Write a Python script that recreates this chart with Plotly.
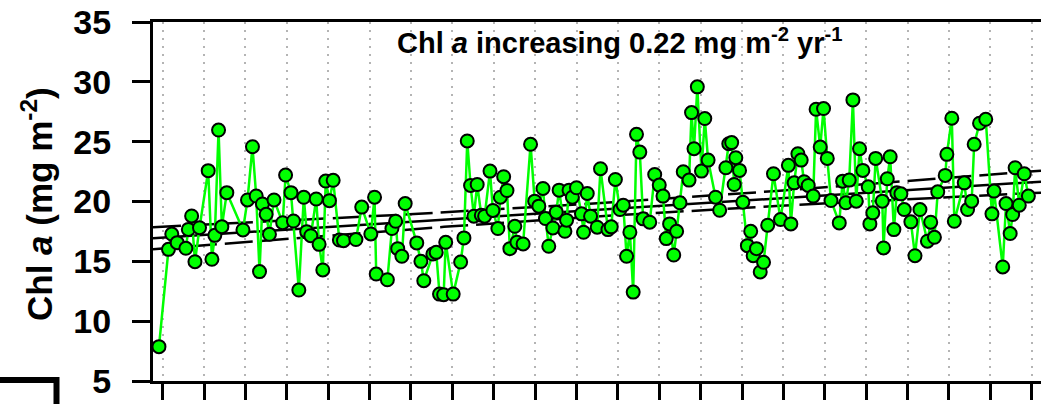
import plotly.graph_objects as go

# Monthly-ish chlorophyll a observations (decimal year, mg m^-2)
years = [
    1992.91, 1993.14, 1993.22, 1993.35, 1993.56, 1993.62, 1993.70, 1993.78, 1993.89, 1994.10,
    1994.19, 1994.26, 1994.35, 1994.43, 1994.55, 1994.94, 1995.05, 1995.17, 1995.26, 1995.34,
    1995.41, 1995.50, 1995.58, 1995.69, 1995.90, 1995.97, 1996.10, 1996.16, 1996.29, 1996.41,
    1996.48, 1996.58, 1996.71, 1996.78, 1996.87, 1996.94, 1997.03, 1997.12, 1997.27, 1997.37,
    1997.67, 1997.81, 1998.03, 1998.12, 1998.16, 1998.43, 1998.54, 1998.63, 1998.68, 1998.78,
    1998.86, 1999.14, 1999.24, 1999.31, 1999.53, 1999.61, 1999.69, 1999.79, 1999.84, 2000.02,
    2000.20, 2000.28, 2000.36, 2000.44, 2000.52, 2000.60, 2000.70, 2000.78, 2000.91, 2000.98,
    2001.10, 2001.16, 2001.24, 2001.32, 2001.39, 2001.51, 2001.56, 2001.71, 2001.89, 2001.99,
    2002.09, 2002.19, 2002.25, 2002.33, 2002.43, 2002.51, 2002.58, 2002.72, 2002.76, 2002.82,
    2002.90, 2003.00, 2003.12, 2003.17, 2003.26, 2003.34, 2003.50, 2003.58, 2003.76, 2003.84,
    2003.94, 2004.05, 2004.13, 2004.21, 2004.29, 2004.37, 2004.45, 2004.53, 2004.61, 2004.77,
    2004.89, 2005.00, 2005.09, 2005.17, 2005.25, 2005.35, 2005.42, 2005.50, 2005.58, 2005.72,
    2005.78, 2005.84, 2005.92, 2006.02, 2006.10, 2006.18, 2006.36, 2006.46, 2006.61, 2006.68,
    2006.75, 2006.81, 2006.85, 2006.94, 2007.02, 2007.13, 2007.21, 2007.27, 2007.35, 2007.44,
    2007.52, 2007.62, 2007.76, 2007.93, 2008.12, 2008.18, 2008.26, 2008.35, 2008.43, 2008.50,
    2008.60, 2008.72, 2008.79, 2008.89, 2008.97, 2009.06, 2009.15, 2009.35, 2009.43, 2009.51,
    2009.59, 2009.68, 2009.76, 2009.84, 2009.92, 2010.05, 2010.09, 2010.16, 2010.23, 2010.39,
    2010.42, 2010.51, 2010.58, 2010.67, 2010.74, 2010.84, 2010.92, 2011.08, 2011.18, 2011.30,
    2011.48, 2011.56, 2011.65, 2011.73, 2011.91, 2011.95, 2012.07, 2012.13, 2012.37, 2012.45,
    2012.55, 2012.61, 2012.74, 2012.89, 2013.04, 2013.09, 2013.30, 2013.38, 2013.48, 2013.54,
    2013.60, 2013.70, 2013.82, 2013.92,
]
chl = [
    7.87, 16.00, 17.28, 16.56, 16.09, 17.67, 18.79, 14.97, 17.81, 22.58,
    15.17, 17.17, 25.97, 17.90, 20.74, 17.62, 20.13, 24.58, 20.46, 14.14,
    19.79, 18.93, 17.26, 20.13, 18.23, 22.21, 20.74, 18.37, 12.60, 20.35,
    17.48, 17.14, 20.21, 16.42, 14.28, 21.71, 20.07, 21.77, 16.78, 16.73,
    16.82, 19.53, 17.29, 20.36, 13.94, 13.46, 17.74, 18.35, 16.06, 15.42,
    19.83, 16.54, 15.00, 13.38, 15.61, 15.75, 12.26, 12.21, 16.59, 12.26,
    14.94, 16.96, 25.06, 21.34, 18.77, 21.42, 18.85, 18.77, 22.54, 19.25,
    17.74, 20.36, 22.07, 20.92, 16.06, 17.93, 16.59, 16.45, 24.78, 20.03,
    19.61, 21.09, 18.58, 16.26, 17.79, 19.11, 20.95, 17.51, 18.44, 20.95,
    20.36, 21.15, 18.97, 17.43, 20.67, 18.77, 17.85, 22.74, 17.65, 17.88,
    21.84, 19.33, 19.69, 15.42, 17.43, 12.43, 25.61, 24.13, 18.55, 18.27,
    22.26, 21.37, 20.45, 16.90, 18.13, 15.53, 17.51, 19.89, 22.49, 21.79,
    27.43, 24.41, 29.58, 22.54, 26.93, 23.46, 20.36, 19.27, 22.82, 24.83,
    24.92, 21.42, 23.66, 22.60, 19.94, 16.31, 17.51, 15.47, 16.06, 14.11,
    14.92, 18.02, 22.32, 18.49, 23.02, 18.13, 21.56, 23.99, 23.46, 21.65,
    21.34, 20.45, 27.71, 24.55, 27.77, 23.60, 20.08, 18.21, 21.70, 19.89,
    21.79, 28.49, 20.03, 24.41, 22.60, 21.23, 18.13, 19.05, 23.60, 20.03,
    16.12, 21.90, 23.74, 17.65, 20.73, 20.64, 19.33, 18.30, 15.47, 19.33,
    16.68, 18.27, 17.01, 20.81, 22.18, 23.94, 26.96, 18.35, 21.56, 19.33,
    20.03, 24.78, 26.54, 26.87, 18.97, 20.87, 14.53, 19.83, 17.32, 18.91,
    22.82, 19.69, 22.32, 20.45,
]

# Linear trend (mg m^-2 per year) and its 95 % confidence band
trend_slope = 0.22
trend_center_year = 2003.5
trend_center_value = 19.3
ci_halfwidth_center = 0.55
ci_spread = 0.0047

year_ticks = list(range(1993, 2015))
y_ticks = [5, 10, 15, 20, 25, 30, 35]
x_range = [1992.766, 2014.225]

FONT = "Liberation Sans, Arial, sans-serif"

# Trend line sampled across the axis span
n_s = 120
xs = [x_range[0] + (x_range[1] - x_range[0]) * i / (n_s - 1) for i in range(n_s)]
fit = [trend_center_value + trend_slope * (x - trend_center_year) for x in xs]
hw = [(ci_halfwidth_center ** 2 + ci_spread * (x - trend_center_year) ** 2) ** 0.5 for x in xs]
upper = [f + h for f, h in zip(fit, hw)]
lower = [f - h for f, h in zip(fit, hw)]

fig = go.Figure()
for band in (upper, lower):
    fig.add_trace(go.Scatter(x=xs, y=band, mode="lines", hoverinfo="skip",
                             line=dict(color="black", width=2.5, dash="28px,8px")))
fig.add_trace(go.Scatter(x=xs, y=fit, mode="lines", hoverinfo="skip",
                         line=dict(color="black", width=2.5)))
fig.add_trace(go.Scatter(
    x=years, y=chl, mode="lines+markers",
    line=dict(color="#00ff00", width=2.5),
    marker=dict(size=13, color="#00ff00", line=dict(color="black", width=2)),
))

W, H = 1041, 404
L, T, B = 153, 22, 23
pw, ph = W - L, H - T - B


def px(x):
    return (x - L) / pw


def py(y):
    return (H - B - y) / ph


fig.update_layout(
    width=W, height=H,
    margin=dict(l=L, r=0, t=T, b=B),
    paper_bgcolor="white", plot_bgcolor="white",
    showlegend=False,
    font=dict(family=FONT, color="black"),
    xaxis=dict(
        range=x_range, tickvals=year_ticks, showticklabels=False,
        ticks="outside", ticklen=16, tickwidth=3, tickcolor="black",
        showline=True, linewidth=3, linecolor="black", mirror=True,
        showgrid=True, gridcolor="#b4b4b4", gridwidth=2, griddash="2px,6px",
        zeroline=False,
    ),
    yaxis=dict(
        range=[5, 35], tickvals=y_ticks,
        ticks="outside", ticklen=18, tickwidth=3, tickcolor="black",
        showline=True, linewidth=3, linecolor="black",
        showgrid=False, zeroline=False,
        tickfont=dict(size=34, family=FONT, weight="bold"),
        ticklabelstandoff=14,
    ),
    annotations=[
        dict(text="Chl <i>a</i> (mg m<sup>-2</sup>)", textangle=-90,
             xref="paper", yref="paper", x=px(37), y=py(204),
             xanchor="center", yanchor="middle", showarrow=False,
             font=dict(size=35, family=FONT, weight="bold")),
        dict(text="Chl <i>a</i> increasing 0.22 mg m<sup>-2</sup> yr<sup>-1</sup>",
             xref="paper", yref="paper", x=px(620), y=py(41),
             xanchor="center", yanchor="middle", showarrow=False,
             font=dict(size=29, family=FONT, weight="bold")),
    ],
    shapes=[
        dict(type="path", xref="paper", yref="paper",
             path=f"M {px(-5)},{py(380)} L {px(56.5)},{py(380)} L {px(56.5)},{py(420)}",
             line=dict(color="black", width=6)),
    ],
)

fig.write_html("out.html")
